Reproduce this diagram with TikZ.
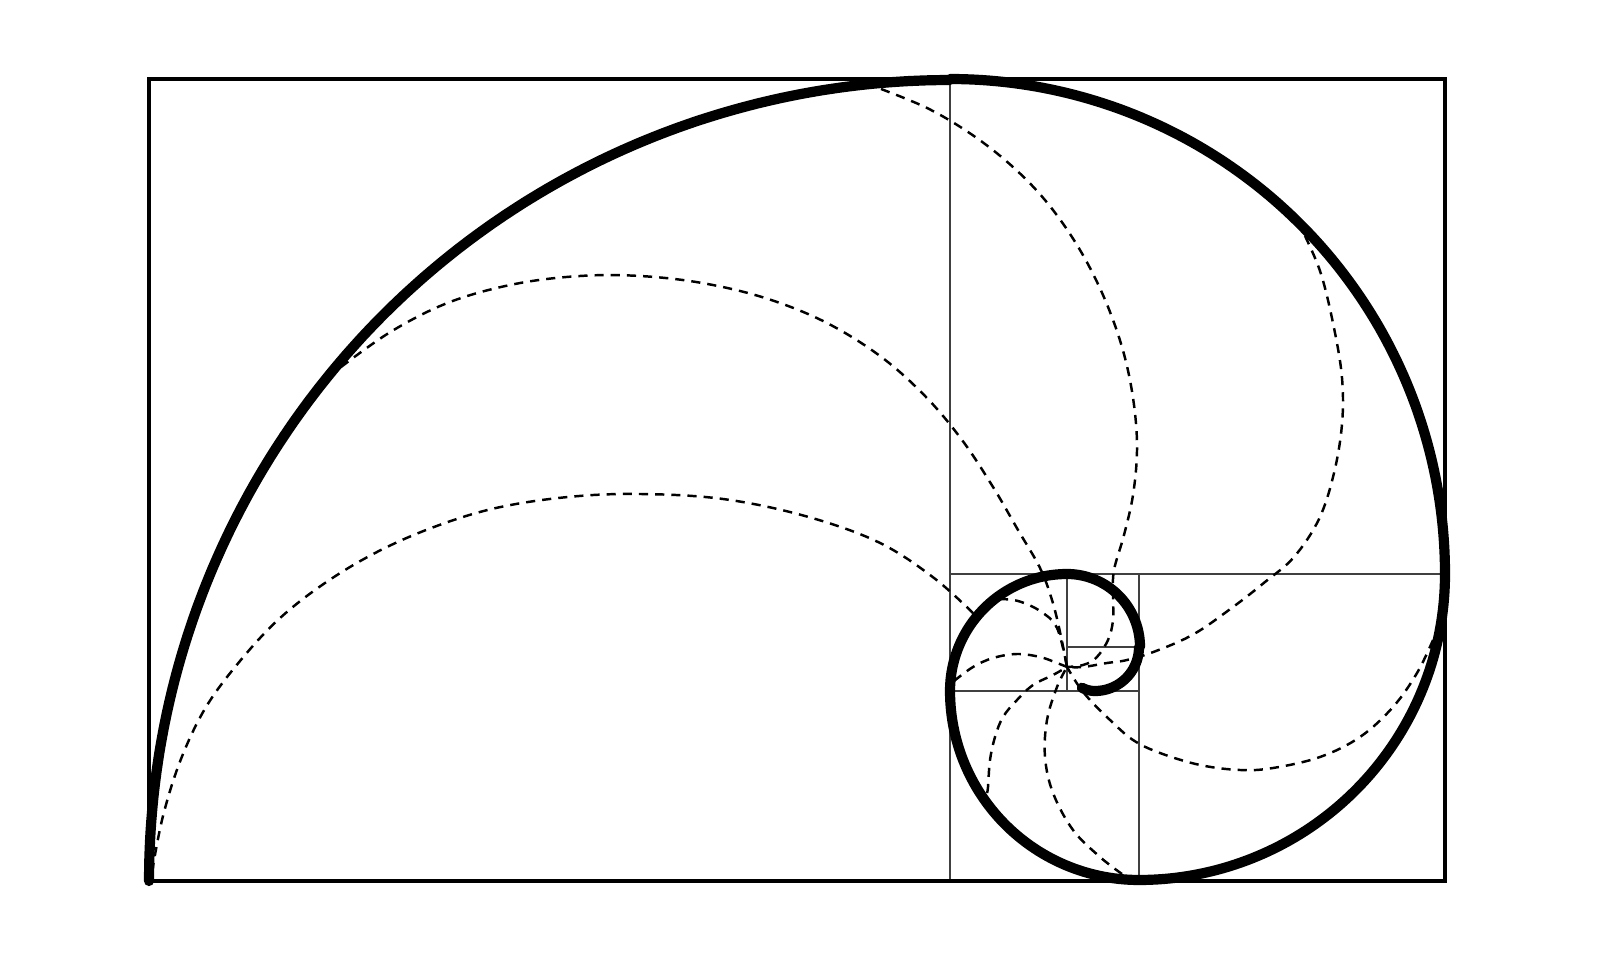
\documentclass[tikz,border=0pt]{standalone}
\begin{document}
\begin{tikzpicture}[x=0.01cm,y=-0.01cm,
  frame/.style={line width=1.15pt,black},
  grid/.style={line width=0.45pt,black!75},
  shell/.style={line width=2.9pt,black,line cap=round,line join=round},
  septum/.style={line width=0.7pt,black,dash pattern=on 2.6pt off 2pt}]
\useasboundingbox (0,0) rectangle (1619,980);
% grid of golden squares
\draw[grid] (950,79) -- (950,881);
\draw[grid] (950,574) -- (1445,574);
\draw[grid] (1139,574) -- (1139,881);
\draw[grid] (950,691) -- (1139,691);
\draw[grid] (1067,574) -- (1067,691);
\draw[grid] (1067,647) -- (1139,647);
% outer frame
\draw[frame] (149,79) rectangle (1445,881);
% dashed septa
\coordinate (C) at (1067,667);
\draw[septum] plot[smooth,tension=0.6] coordinates {(152,872) (163,816) (181,759) (206,707) (240,661) (279,619) (325,583) (377,552) (434,527) (496,508) (568,497) (640,494) (723,499) (805,516) (878,542) (934,578) (977,617)};
\draw[septum] plot[smooth,tension=0.6] coordinates {(341,367) (392,331) (450,302) (515,284) (580,276) (640,276) (702,283) (765,298) (825,322) (880,356) (925,396) (962,440) (993,487) (1018,530) (1040,568) (1052,600) (1060,632) (C)};
\draw[septum] plot[smooth,tension=0.6] coordinates {(999,599) (1018,601) (1040,611) (1057,628) (C)};
\draw[septum] plot[smooth,tension=0.6] coordinates {(881,89) (927,108) (968,132) (1005,160) (1038,192) (1066,228) (1090,268) (1110,312) (1125,358) (1134,405) (1137,450) (1133,495) (1124,535) (1114,570) (1113,595) (1113,620) (1108,640) (1096,658) (1083,665) (C)};
\draw[septum] plot[smooth,tension=0.6] coordinates {(1305,236) (1321,274) (1334,328) (1342,378) (1342,424) (1334,473) (1319,519) (1294,557) (1265,582) (1233,607) (1194,634) (1156,651) (1127,660) (1107,663) (1083,667) (C)};
\draw[septum] plot[smooth,tension=0.6] coordinates {(1433,640) (1417,673) (1393,707) (1360,737) (1320,757) (1273,768) (1240,770) (1200,765) (1160,753) (1133,740) (1110,720) (1090,700) (1078,685) (C)};
\draw[septum] plot[smooth,tension=0.6] coordinates {(1122,874) (1100,857) (1073,830) (1053,793) (1045,757) (1047,720) (1057,687) (C)};
\draw[septum] plot[smooth,tension=0.6] coordinates {(987,793) (988,787) (990,760) (995,737) (1003,717) (1017,700) (1033,685) (1053,675) (C)};
\draw[septum] plot[smooth,tension=0.6] coordinates {(954,681) (973,667) (993,658) (1017,654) (1040,657) (1057,663) (C)};
% golden spiral of quarter circles
\draw[shell]
  plot[domain=180:90,samples=150,variable=\t] ({950+801*cos(\t)},{881-801*sin(\t)})
  -- plot[domain=90:0,samples=100,variable=\t] ({950+495*cos(\t)},{574-495*sin(\t)})
  -- plot[domain=0:-90,samples=80,variable=\t] ({1139+306*cos(\t)},{574-306*sin(\t)})
  -- plot[domain=-90:-180,samples=60,variable=\t] ({1139+189*cos(\t)},{691-189*sin(\t)})
  -- plot[domain=180:90,samples=50,variable=\t] ({1067+117*cos(\t)},{691-117*sin(\t)})
  -- plot[domain=90:0,samples=40,variable=\t] ({1067+73*cos(\t)},{647-73*sin(\t)})
  -- plot[domain=0:-90,samples=30,variable=\t] ({1095+44*cos(\t)},{647-44*sin(\t)})
  -- plot[domain=-90:-118,samples=12,variable=\t] ({1095+28*cos(\t)},{663-28*sin(\t)});
\end{tikzpicture}
\end{document}
